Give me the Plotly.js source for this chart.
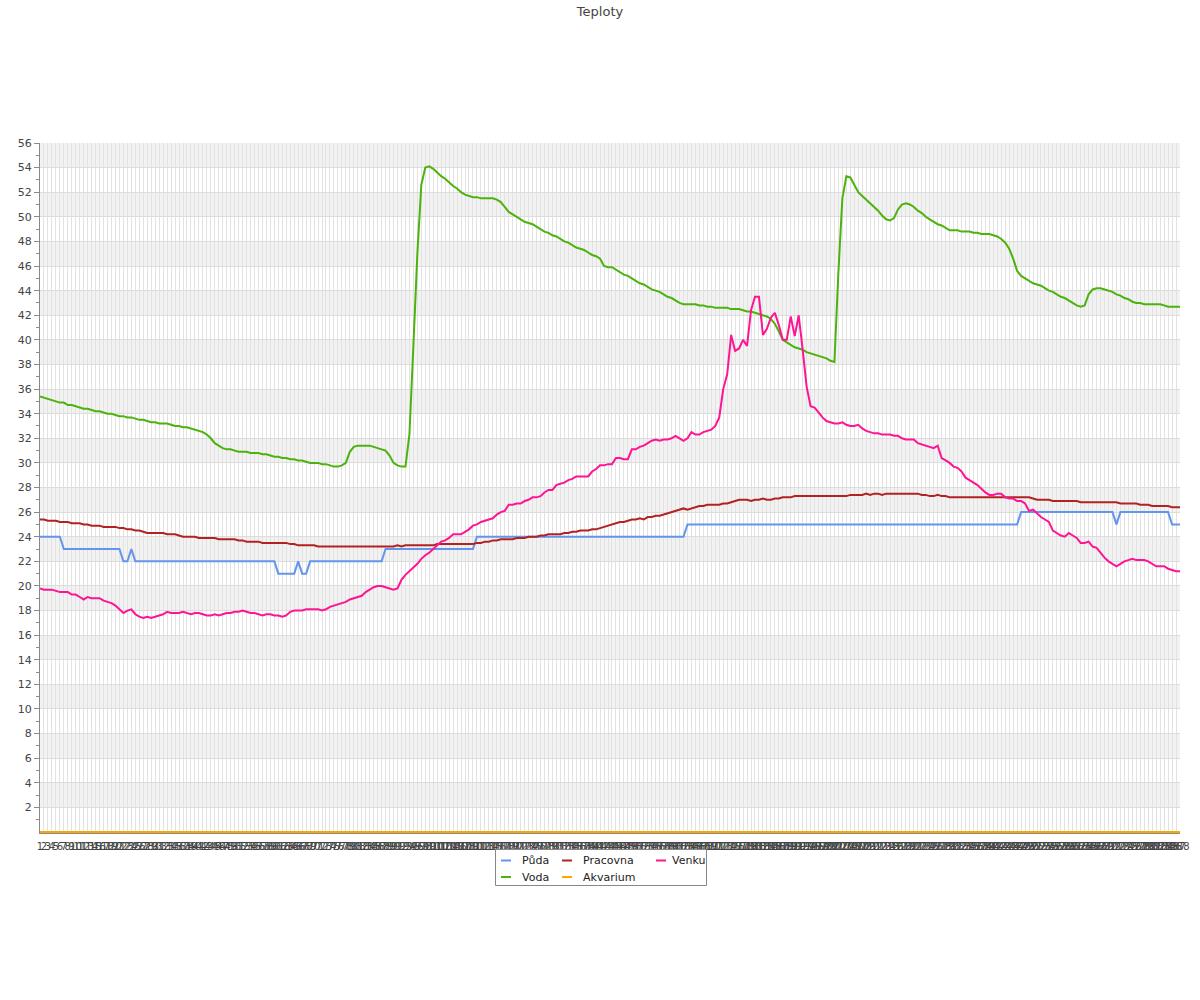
<!DOCTYPE html>
<html>
<head>
<meta charset="utf-8">
<script src="https://cdn.plot.ly/plotly-3.0.1.min.js"></script>
<style>html,body{margin:0;padding:0;background:#fff;}#chart{width:1200px;height:1000px;}</style>
</head>
<body>
<div id="chart"></div>
<script>
// x categories (sample numbers)
var categories = [
1,2,3,4,5,6,7,8,9,10,11,12,13,14,15,16,17,18,19,20,
21,22,23,24,25,26,27,28,29,30,31,32,33,34,35,36,37,38,39,40,
41,42,43,44,45,46,47,48,49,50,51,52,53,54,55,56,57,58,59,60,
61,62,63,64,65,66,67,68,69,70,71,72,73,74,75,76,77,78,79,80,
81,82,83,84,85,86,87,88,89,90,91,92,93,94,95,96,97,98,99,100,
101,102,103,104,105,106,107,108,109,110,111,112,113,114,115,116,117,118,119,120,
121,122,123,124,125,126,127,128,129,130,131,132,133,134,135,136,137,138,139,140,
141,142,143,144,145,146,147,148,149,150,151,152,153,154,155,156,157,158,159,160,
161,162,163,164,165,166,167,168,169,170,171,172,173,174,175,176,177,178,179,180,
181,182,183,184,185,186,187,188,189,190,191,192,193,194,195,196,197,198,199,200,
201,202,203,204,205,206,207,208,209,210,211,212,213,214,215,216,217,218,219,220,
221,222,223,224,225,226,227,228,229,230,231,232,233,234,235,236,237,238,239,240,
241,242,243,244,245,246,247,248,249,250,251,252,253,254,255,256,257,258,259,260,
261,262,263,264,265,266,267,268,269,270,271,272,273,274,275,276,277,278,279,280,
281,282,283,284,285,286,287,288
];

var puda = [
24,24,24,24,24,24,23,23,23,23,
23,23,23,23,23,23,23,23,23,23,
23,22,22,23,22,22,22,22,22,22,
22,22,22,22,22,22,22,22,22,22,
22,22,22,22,22,22,22,22,22,22,
22,22,22,22,22,22,22,22,22,22,
21,21,21,21,21,22,21,21,22,22,
22,22,22,22,22,22,22,22,22,22,
22,22,22,22,22,22,22,23,23,23,
23,23,23,23,23,23,23,23,23,23,
23,23,23,23,23,23,23,23,23,23,
24,24,24,24,24,24,24,24,24,24,
24,24,24,24,24,24,24,24,24,24,
24,24,24,24,24,24,24,24,24,24,
24,24,24,24,24,24,24,24,24,24,
24,24,24,24,24,24,24,24,24,24,
24,24,24,25,25,25,25,25,25,25,
25,25,25,25,25,25,25,25,25,25,
25,25,25,25,25,25,25,25,25,25,
25,25,25,25,25,25,25,25,25,25,
25,25,25,25,25,25,25,25,25,25,
25,25,25,25,25,25,25,25,25,25,
25,25,25,25,25,25,25,25,25,25,
25,25,25,25,25,25,25,25,25,25,
25,25,25,25,25,25,25,26,26,26,
26,26,26,26,26,26,26,26,26,26,
26,26,26,26,26,26,26,26,26,26,
26,25,26,26,26,26,26,26,26,26,
26,26,26,26,26,25,25,25
];

var voda = [
35.4,35.3,35.2,35.1,35.0,34.9,34.9,34.7,34.7,34.6,
34.5,34.4,34.4,34.3,34.2,34.2,34.1,34.0,34.0,33.9,
33.8,33.8,33.7,33.7,33.6,33.5,33.5,33.4,33.3,33.3,
33.2,33.2,33.2,33.1,33.0,33.0,32.9,32.9,32.8,32.7,
32.6,32.5,32.3,32.0,31.6,31.4,31.2,31.1,31.1,31.0,
30.9,30.9,30.9,30.8,30.8,30.8,30.7,30.7,30.6,30.5,
30.5,30.4,30.4,30.3,30.3,30.2,30.2,30.1,30.0,30.0,
30.0,29.9,29.9,29.8,29.7,29.7,29.8,30.0,30.9,31.3,
31.4,31.4,31.4,31.4,31.3,31.2,31.1,31.0,30.6,30.0,
29.8,29.7,29.7,32.3,39.5,47.0,52.6,54.0,54.1,53.9,
53.6,53.3,53.1,52.8,52.5,52.3,52.0,51.8,51.7,51.6,
51.6,51.5,51.5,51.5,51.5,51.4,51.2,50.8,50.4,50.2,
50.0,49.8,49.6,49.5,49.4,49.2,49.0,48.8,48.7,48.5,
48.4,48.2,48.0,47.9,47.7,47.5,47.4,47.3,47.1,46.9,
46.8,46.6,46.0,45.9,45.9,45.7,45.5,45.3,45.2,45.0,
44.8,44.6,44.5,44.3,44.1,44.0,43.9,43.7,43.5,43.4,
43.2,43.0,42.9,42.9,42.9,42.9,42.8,42.8,42.7,42.7,
42.6,42.6,42.6,42.6,42.5,42.5,42.5,42.4,42.3,42.3,
42.2,42.1,42.0,41.9,41.7,41.3,40.7,40.0,39.8,39.6,
39.4,39.3,39.2,39.0,38.9,38.8,38.7,38.6,38.5,38.3,
38.2,45.5,51.5,53.3,53.2,52.6,52.0,51.7,51.4,51.1,
50.8,50.5,50.1,49.8,49.7,49.9,50.6,51.0,51.1,51.0,
50.8,50.5,50.3,50.0,49.8,49.6,49.4,49.3,49.1,48.9,
48.9,48.9,48.8,48.8,48.8,48.7,48.7,48.6,48.6,48.6,
48.5,48.4,48.2,47.9,47.4,46.6,45.6,45.2,45.0,44.8,
44.6,44.5,44.4,44.2,44.0,43.9,43.7,43.5,43.4,43.2,
43.0,42.8,42.7,42.8,43.7,44.1,44.2,44.2,44.1,44.0,
43.9,43.7,43.6,43.4,43.3,43.1,43.0,43.0,42.9,42.9,
42.9,42.9,42.9,42.8,42.7,42.7,42.7,42.7
];

var pracovna = [
25.4,25.4,25.3,25.3,25.3,25.2,25.2,25.2,25.1,25.1,
25.1,25.0,25.0,24.9,24.9,24.9,24.8,24.8,24.8,24.8,
24.7,24.7,24.6,24.6,24.5,24.5,24.4,24.3,24.3,24.3,
24.3,24.3,24.2,24.2,24.2,24.1,24.0,24.0,24.0,24.0,
23.9,23.9,23.9,23.9,23.9,23.8,23.8,23.8,23.8,23.8,
23.7,23.7,23.6,23.6,23.6,23.6,23.5,23.5,23.5,23.5,
23.5,23.5,23.5,23.4,23.4,23.3,23.3,23.3,23.3,23.3,
23.2,23.2,23.2,23.2,23.2,23.2,23.2,23.2,23.2,23.2,
23.2,23.2,23.2,23.2,23.2,23.2,23.2,23.2,23.2,23.2,
23.3,23.2,23.3,23.3,23.3,23.3,23.3,23.3,23.3,23.3,
23.4,23.4,23.4,23.4,23.4,23.4,23.4,23.4,23.4,23.4,
23.5,23.5,23.6,23.6,23.7,23.7,23.8,23.8,23.8,23.8,
23.9,23.9,23.9,24.0,24.0,24.0,24.1,24.1,24.2,24.2,
24.2,24.2,24.3,24.3,24.4,24.4,24.5,24.5,24.5,24.6,
24.6,24.7,24.8,24.9,25.0,25.1,25.2,25.2,25.3,25.4,
25.4,25.5,25.4,25.6,25.6,25.7,25.7,25.8,25.9,26.0,
26.1,26.2,26.3,26.2,26.3,26.4,26.5,26.5,26.6,26.6,
26.6,26.6,26.7,26.7,26.8,26.9,27.0,27.0,27.0,26.9,
27.0,27.0,27.1,27.0,27.0,27.1,27.1,27.2,27.2,27.2,
27.3,27.3,27.3,27.3,27.3,27.3,27.3,27.3,27.3,27.3,
27.3,27.3,27.3,27.3,27.4,27.4,27.4,27.4,27.5,27.4,
27.5,27.5,27.4,27.5,27.5,27.5,27.5,27.5,27.5,27.5,
27.5,27.5,27.4,27.4,27.3,27.3,27.4,27.3,27.3,27.2,
27.2,27.2,27.2,27.2,27.2,27.2,27.2,27.2,27.2,27.2,
27.2,27.2,27.2,27.2,27.2,27.2,27.2,27.2,27.2,27.2,
27.1,27.0,27.0,27.0,27.0,26.9,26.9,26.9,26.9,26.9,
26.9,26.9,26.8,26.8,26.8,26.8,26.8,26.8,26.8,26.8,
26.8,26.8,26.7,26.7,26.7,26.7,26.7,26.6,26.6,26.6,
26.5,26.5,26.5,26.5,26.5,26.4,26.4,26.4
];

var akvarium = [
0,0,0,0,0,0,0,0,0,0, 0,0,0,0,0,0,0,0,0,0, 0,0,0,0,0,0,0,0,0,0,
0,0,0,0,0,0,0,0,0,0, 0,0,0,0,0,0,0,0,0,0, 0,0,0,0,0,0,0,0,0,0,
0,0,0,0,0,0,0,0,0,0, 0,0,0,0,0,0,0,0,0,0, 0,0,0,0,0,0,0,0,0,0,
0,0,0,0,0,0,0,0,0,0, 0,0,0,0,0,0,0,0,0,0, 0,0,0,0,0,0,0,0,0,0,
0,0,0,0,0,0,0,0,0,0, 0,0,0,0,0,0,0,0,0,0, 0,0,0,0,0,0,0,0,0,0,
0,0,0,0,0,0,0,0,0,0, 0,0,0,0,0,0,0,0,0,0, 0,0,0,0,0,0,0,0,0,0,
0,0,0,0,0,0,0,0,0,0, 0,0,0,0,0,0,0,0,0,0, 0,0,0,0,0,0,0,0,0,0,
0,0,0,0,0,0,0,0,0,0, 0,0,0,0,0,0,0,0,0,0, 0,0,0,0,0,0,0,0,0,0,
0,0,0,0,0,0,0,0,0,0, 0,0,0,0,0,0,0,0,0,0, 0,0,0,0,0,0,0,0,0,0,
0,0,0,0,0,0,0,0,0,0, 0,0,0,0,0,0,0,0
];

var venku = [
19.8,19.7,19.7,19.7,19.6,19.5,19.5,19.5,19.3,19.3,
19.1,18.9,19.1,19.0,19.0,19.0,18.8,18.7,18.6,18.4,
18.1,17.8,18.0,18.1,17.7,17.5,17.4,17.5,17.4,17.5,
17.6,17.7,17.9,17.8,17.8,17.8,17.9,17.8,17.7,17.8,
17.8,17.7,17.6,17.6,17.7,17.6,17.7,17.8,17.8,17.9,
17.9,18.0,17.9,17.8,17.8,17.7,17.6,17.7,17.7,17.6,
17.6,17.5,17.6,17.9,18.0,18.0,18.0,18.1,18.1,18.1,
18.1,18.0,18.1,18.3,18.4,18.5,18.6,18.7,18.9,19.0,
19.1,19.2,19.5,19.7,19.9,20.0,20.0,19.9,19.8,19.7,
19.8,20.5,20.9,21.2,21.5,21.8,22.2,22.5,22.7,23.0,
23.3,23.6,23.7,23.9,24.2,24.2,24.2,24.4,24.6,24.9,
25.0,25.2,25.3,25.4,25.5,25.8,26.0,26.1,26.6,26.6,
26.7,26.7,26.9,27.0,27.2,27.2,27.3,27.6,27.8,27.8,
28.2,28.3,28.4,28.6,28.7,28.9,28.9,28.9,28.9,29.3,
29.5,29.8,29.8,29.9,29.9,30.4,30.4,30.3,30.3,31.1,
31.1,31.3,31.4,31.6,31.8,31.9,31.8,31.9,31.9,32.0,
32.2,32.0,31.8,32.0,32.5,32.3,32.3,32.5,32.6,32.7,
33.0,33.7,36.0,37.2,40.4,39.1,39.3,40.0,39.5,42.4,
43.5,43.5,40.4,40.9,41.8,42.2,41.2,40.0,40.0,41.9,
40.3,42.0,39.2,36.2,34.6,34.5,34.1,33.7,33.4,33.3,
33.2,33.2,33.3,33.1,33.0,33.0,33.1,32.8,32.6,32.5,
32.4,32.4,32.3,32.3,32.3,32.2,32.2,32.0,31.9,31.9,
31.9,31.6,31.5,31.4,31.3,31.2,31.4,30.4,30.2,30.0,
29.7,29.6,29.3,28.8,28.6,28.4,28.2,27.9,27.6,27.4,
27.4,27.5,27.5,27.2,27.1,27.1,26.9,26.9,26.7,26.1,
26.2,25.9,25.6,25.4,25.2,24.5,24.3,24.1,24.0,24.3,
24.1,23.9,23.5,23.5,23.6,23.2,23.1,22.7,22.3,22.0,
21.8,21.6,21.8,22.0,22.1,22.2,22.1,22.1,22.1,22.0,
21.8,21.6,21.6,21.6,21.4,21.3,21.2,21.2
];

var yTicks = [2,4,6,8,10,12,14,16,18,20,22,24,26,28,30,32,34,36,38,40,42,44,46,48,50,52,54,56];

var seriesNames = ['Půda','Voda','Pracovna','Akvarium','Venku'];
var seriesData = [puda, voda, pracovna, akvarium, venku];
var seriesColors = ['#6495ed','#4cb20c','#b22222','#ffa500','#ff1493'];

var traces = seriesNames.map(function(name, k){
  return {
    type:'scatter', mode:'lines', name:name,
    x: categories, y: seriesData[k],
    line:{color:seriesColors[k], width:2},
    showlegend:false,
    hoverinfo:'x+y+name'
  };
});

// plot-area geometry in page pixels (for the hand-laid legend box)
var PL = 40, PR = 1180, PT = 143, PB = 833;
function px2x(p){ return (p - PL) / (PR - PL); }
function px2y(p){ return (PB - p) / (PB - PT); }

// alternating horizontal bands
var shapes = [];
for (var b = 2; b < 56; b += 4) {
  shapes.push({type:'rect', xref:'paper', yref:'y', x0:0, x1:1, y0:b, y1:b+2,
    fillcolor:'#f2f2f2', line:{width:0}, layer:'below'});
}

// legend: 3 columns x 2 rows, series laid out column-wise like the reference
var legendBox = {x0:495.5, x1:706.5, y0:849.5, y1:885.5};
shapes.push({type:'rect', xref:'paper', yref:'paper',
  x0:px2x(legendBox.x0), x1:px2x(legendBox.x1), y0:px2y(legendBox.y0), y1:px2y(legendBox.y1),
  fillcolor:'#ffffff', line:{color:'#888888', width:1}, layer:'above'});
var colLineX = [501, 562, 656];
var colTextX = [520, 581, 670];
var rowY = [860.5, 877];
var annotations = [];
seriesNames.forEach(function(name, k){
  var col = Math.floor(k / 2), row = k % 2;
  shapes.push({type:'line', xref:'paper', yref:'paper',
    x0:px2x(colLineX[col]), x1:px2x(colLineX[col] + 10), y0:px2y(rowY[row]), y1:px2y(rowY[row]),
    line:{color:seriesColors[k], width:2}, layer:'above'});
  annotations.push({xref:'paper', yref:'paper', x:px2x(colTextX[col]), y:px2y(rowY[row]),
    xanchor:'left', yanchor:'middle', showarrow:false, text:name,
    font:{size:11, color:'#222'}});
});

var layout = {
  width:1200, height:1000,
  margin:{l:40, r:20, t:143, b:167},
  paper_bgcolor:'#ffffff', plot_bgcolor:'#ffffff',
  font:{family:'DejaVu Sans, sans-serif', size:11, color:'#444'},
  title:{text:'Teploty', font:{size:13, color:'#444'}, x:0.5, xref:'container', xanchor:'center',
         y:0.989, yref:'container', yanchor:'middle'},
  xaxis:{type:'category', range:[0, categories.length-1], tickmode:'linear', tick0:0, dtick:1,
         tickangle:0, showgrid:true, gridcolor:'#e2e2e2', gridwidth:1,
         showline:true, linecolor:'#8a8a8a', linewidth:1, ticks:'', zeroline:false,
         ticklabelstandoff:4,
         tickfont:{size:10, color:'#444'}, fixedrange:true},
  yaxis:{range:[-0.08, 56], tickmode:'array', tickvals:yTicks,
         showgrid:true, gridcolor:'#dcdcdc', gridwidth:1, zeroline:false,
         showline:true, linecolor:'#8a8a8a', linewidth:1,
         ticks:'outside', ticklen:5, tickcolor:'#8a8a8a',
         minor:{ticks:'outside', ticklen:3, tickcolor:'#8a8a8a', tickmode:'linear', tick0:1, dtick:2, showgrid:false},
         tickfont:{size:11, color:'#444'}, fixedrange:true},
  showlegend:false,
  shapes: shapes,
  annotations: annotations
};

Plotly.newPlot('chart', traces, layout, {displayModeBar:false, responsive:false});
</script>
</body>
</html>
